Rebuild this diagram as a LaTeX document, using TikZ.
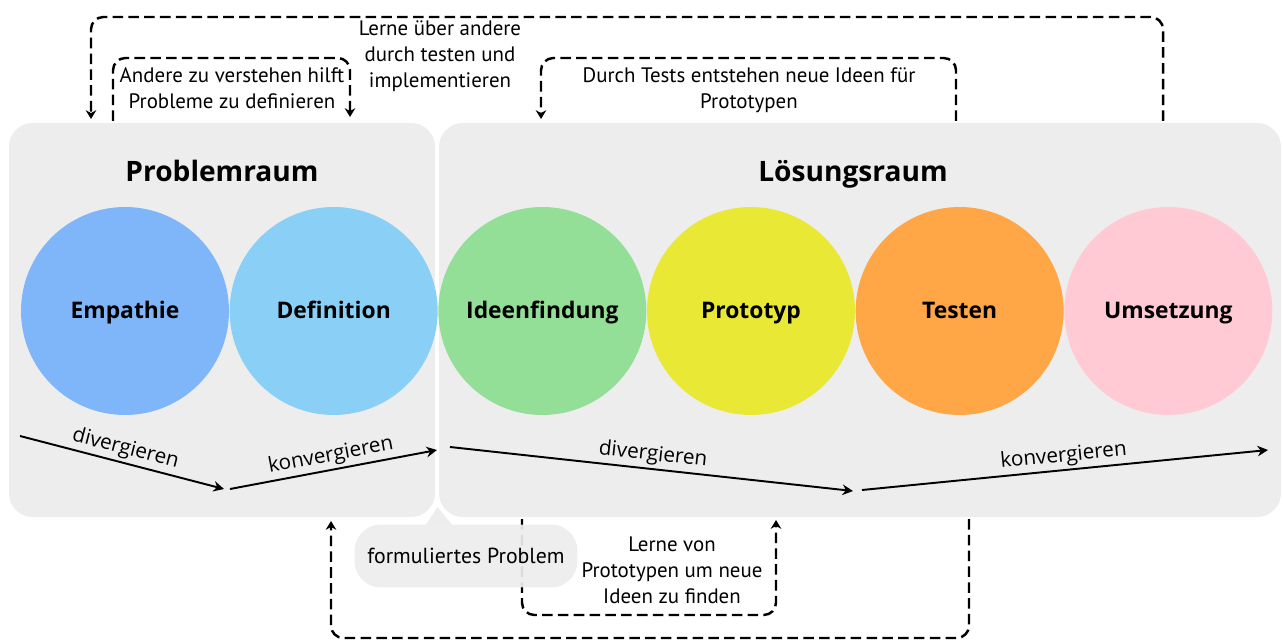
\documentclass[tikz,border=0pt]{standalone}
\usepackage{fontspec}
\setmainfont{Open Sans}
\newfontfamily\notefont{PT Sans}
\usetikzlibrary{arrows.meta, positioning}

\definecolor{raumgrau}{RGB}{237,237,237}
\definecolor{empcol}{RGB}{126,182,249}
\definecolor{defcol}{RGB}{138,207,245}
\definecolor{ideecol}{RGB}{147,223,152}
\definecolor{protocol}{RGB}{232,232,53}
\definecolor{testcol}{RGB}{255,166,70}
\definecolor{umscol}{RGB}{255,202,212}

\tikzset{
  panel/.style={
    fill=raumgrau,
    draw=white,
    line width=1pt,
    rounded corners=14pt,
    inner sep=0pt,
  },
  phase/.style={
    circle,
    minimum size=4.16cm,
    inner sep=0pt,
    text height=0.88em,
    text depth=0pt,
    font=\fontsize{13}{15}\selectfont\bfseries,
  },
  raumtitle/.style={
    text height=0.72em,
    text depth=0pt,
    font=\fontsize{16}{19}\selectfont\bfseries
  },
  flow/.style={
    -{Stealth[length=6pt,width=6pt]},
    line width=1.1pt
  },
  flowlabel/.style={
    font=\fontsize{11.8}{14}\selectfont,
    sloped,
    above,
    inner sep=1.5pt
  },
  loopline/.style={
    -{Stealth[length=5pt,width=6pt]},
    line width=1.4pt,
    dash pattern=on 6pt off 3pt,
    rounded corners=7pt
  },
  note/.style={
    font=\notefont\fontsize{11.9}{14.8}\selectfont,
    align=center,
    inner sep=0pt
  },
  bubble/.style={
    fill=raumgrau,
    fill opacity=0.92,
    text opacity=1,
    rounded corners=15pt,
    minimum width=4.46cm,
    minimum height=1.26cm,
    font=\notefont\fontsize{12.4}{14}\selectfont
  }
}

\begin{document}
\begin{tikzpicture}[x=0.02cm, y=-0.02cm]

\useasboundingbox (0,0) rectangle (1283,641);

% --- Panels ---
\node[panel, minimum width=8.56cm, minimum height=7.92cm] (prob) at (222,320) {};
\node[panel, minimum width=16.88cm, minimum height=7.92cm] (loes) at (860,320) {};

\node[raumtitle] (probtitle) at (222,175) {Problemraum};
\node[raumtitle] (loestitle) at (853,175) {Lösungsraum};

% --- Phases ---
\node[phase, fill=empcol] (emp) at (125,311) {Empathie};
\node[phase, fill=defcol, right=0pt of emp] (def) {Definition};
\node[phase, fill=ideecol, right=0pt of def] (idee) {Ideenfindung};
\node[phase, fill=protocol, right=0pt of idee] (proto) {Prototyp};
\node[phase, fill=testcol, right=0pt of proto] (test) {Testen};
\node[phase, fill=umscol, right=0pt of test] (ums) {Umsetzung};

% --- Diverge / converge ---
\coordinate (f1a) at (20,436);
\coordinate (f1b) at (224,489);
\coordinate (f2a) at (230,489);
\coordinate (f2b) at (437,450);
\coordinate (f3a) at (450,447);
\coordinate (f3b) at (853,491);
\coordinate (f4a) at (862,490);
\coordinate (f4b) at (1268,450);

\draw[flow] (f1a) -- node[flowlabel] {divergieren} (f1b);
\draw[flow] (f2a) -- node[flowlabel] {konvergieren} (f2b);
\draw[flow] (f3a) -- node[flowlabel] {divergieren} (f3b);
\draw[flow] (f4a) -- node[flowlabel] {konvergieren} (f4b);

% --- Loops below ---
\coordinate (vonA) at (522,519);
\coordinate (vonB) at (776,520);
\coordinate (botA) at (969,519);
\coordinate (botB) at (331,521);

\draw[loopline] (vonA) -- ++(0,96) -| (vonB);
\draw[loopline] (botA) -- ++(0,119) -| (botB);

% --- Formulated problem ---
\fill[raumgrau] (425,526) -- (437.5,507) -- (453,526) -- cycle;
\node[bubble] (formprob) at (466,556) {formuliertes Problem};

\node[note] (lernevon) at (672,570) {Lerne von\\Prototypen um neue\\Ideen zu finden};

% --- Loops above ---
\coordinate (outA) at (1163,121);
\coordinate (outB) at (91,119);
\coordinate (andA) at (113,121);
\coordinate (andB) at (350,117);
\coordinate (testA) at (956,121);
\coordinate (testB) at (541,119);

\draw[loopline] (outA) -- ++(0,-104) -| (outB);
\draw[loopline] (andA) -- ++(0,-63) -| (andB);
\draw[loopline] (testA) -- ++(0,-63) -| (testB);

\node[note] (andere) at (232,88) {Andere zu verstehen hilft\\Probleme zu definieren};
\node[note] (lerneueber) at (440,56) {Lerne über andere\\durch testen und\\implementieren};
\node[note] (tests) at (749,90) {Durch Tests entstehen neue Ideen für\\Prototypen};

\end{tikzpicture}
\end{document}
